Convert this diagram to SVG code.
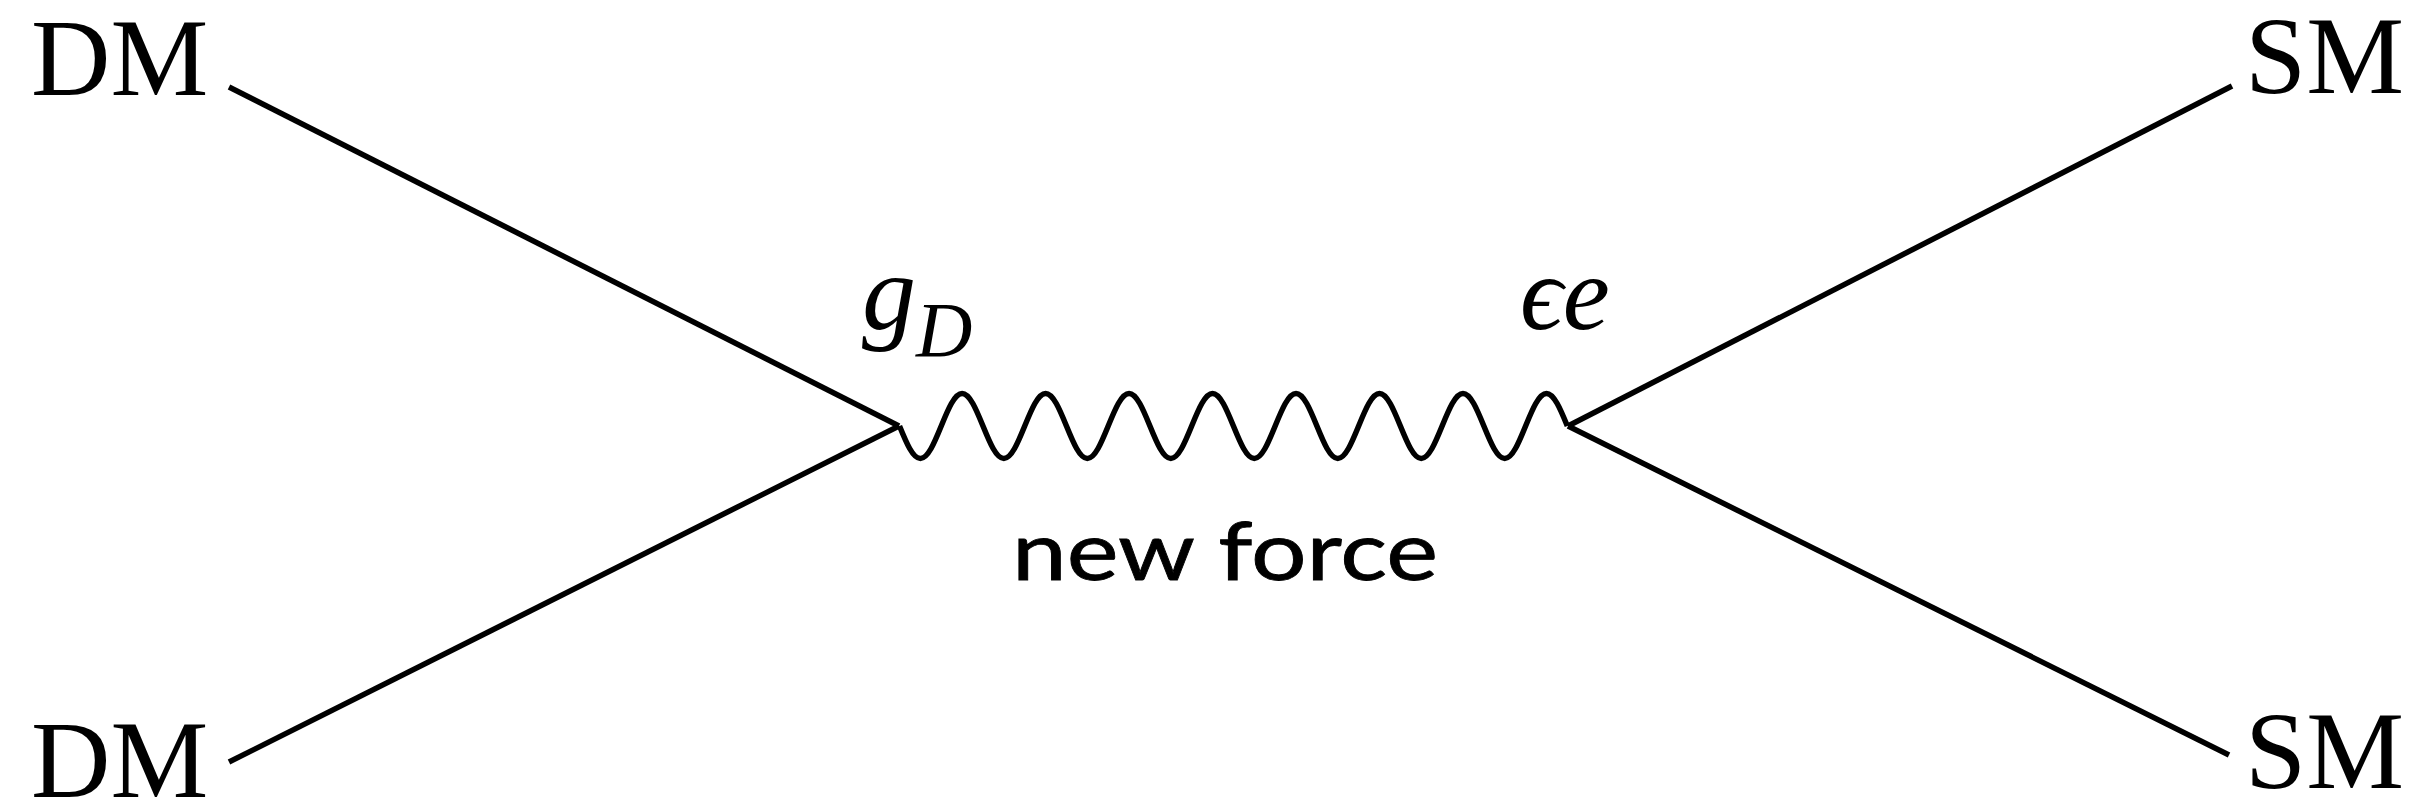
<svg xmlns="http://www.w3.org/2000/svg" width="2415" height="805" viewBox="0 0 2415 805">
<style>
.lbl{font-family:"Liberation Serif","Times New Roman",serif;font-size:110px;fill:#000}
.math{font-family:"Liberation Serif","DejaVu Serif",serif;font-style:italic;fill:#000}
.txt{font-family:Lato,"Open Sans",sans-serif;font-size:82px;fill:#000;stroke:#000;stroke-width:0.8}
.ln{stroke:#000;stroke-width:5.5;fill:none;stroke-linecap:butt;stroke-linejoin:round}
</style>
<rect width="2415" height="805" fill="#fff"/>
<g id="connectors">
<path class="ln" d="M229,87 L899,426"/>
<path class="ln" d="M229,762 L899,426"/>
<path class="ln" d="M2232,86 L1568,426"/>
<path class="ln" d="M2229,755 L1568,426"/>
<path id="wave" class="ln" d="M899.5,426
c6.806,16.65 13.316,32.5 20.87,32.5 c7.554,0 14.064,-15.85 20.87,-32.5 c6.806,-16.65 13.316,-32.5 20.87,-32.5 c7.554,0 14.064,15.85 20.87,32.5
c6.806,16.65 13.316,32.5 20.87,32.5 c7.554,0 14.064,-15.85 20.87,-32.5 c6.806,-16.65 13.316,-32.5 20.87,-32.5 c7.554,0 14.064,15.85 20.87,32.5
c6.806,16.65 13.316,32.5 20.87,32.5 c7.554,0 14.064,-15.85 20.87,-32.5 c6.806,-16.65 13.316,-32.5 20.87,-32.5 c7.554,0 14.064,15.85 20.87,32.5
c6.806,16.65 13.316,32.5 20.87,32.5 c7.554,0 14.064,-15.85 20.87,-32.5 c6.806,-16.65 13.316,-32.5 20.87,-32.5 c7.554,0 14.064,15.85 20.87,32.5
c6.806,16.65 13.316,32.5 20.87,32.5 c7.554,0 14.064,-15.85 20.87,-32.5 c6.806,-16.65 13.316,-32.5 20.87,-32.5 c7.554,0 14.064,15.85 20.87,32.5
c6.806,16.65 13.316,32.5 20.87,32.5 c7.554,0 14.064,-15.85 20.87,-32.5 c6.806,-16.65 13.316,-32.5 20.87,-32.5 c7.554,0 14.064,15.85 20.87,32.5
c6.806,16.65 13.316,32.5 20.87,32.5 c7.554,0 14.064,-15.85 20.87,-32.5 c6.806,-16.65 13.316,-32.5 20.87,-32.5 c7.554,0 14.064,15.85 20.87,32.5
c6.806,16.65 13.316,32.5 20.87,32.5 c7.554,0 14.064,-15.85 20.87,-32.5 c6.806,-16.65 13.316,-32.5 20.87,-32.5 c7.554,0 14.064,15.85 20.87,32.5"/>
</g>
<g id="dm-top"><text class="lbl" x="31" y="95">DM</text></g>
<g id="dm-bottom"><text class="lbl" x="31" y="797">DM</text></g>
<g id="sm-top"><text class="lbl" x="2404" y="93" text-anchor="end">SM</text></g>
<g id="sm-bottom"><text class="lbl" x="2404" y="788" text-anchor="end">SM</text></g>
<g id="coupling-left"><text class="math" x="862" y="329" font-size="108">g<tspan font-size="78" dy="27">D</tspan></text></g>
<g id="coupling-right"><text class="math" x="1520" y="329" font-size="106">ϵe</text></g>
<g id="force-label"><text class="txt" x="1012" y="580" textLength="426" lengthAdjust="spacingAndGlyphs">new force</text></g>
</svg>
